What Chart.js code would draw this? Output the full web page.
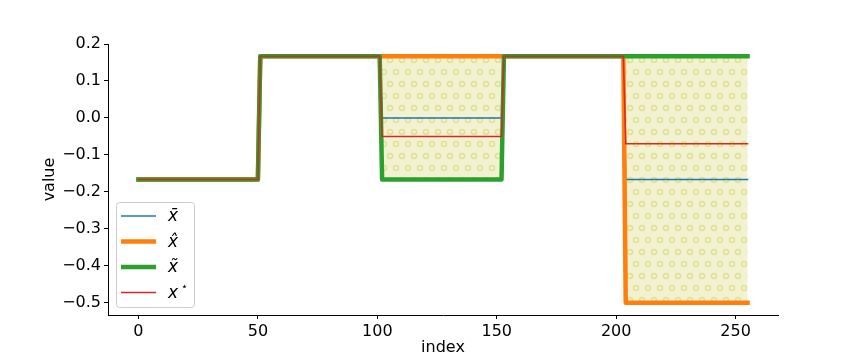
<!DOCTYPE html>
<html lang="en">
  <head>
    <meta charset="UTF-8" />
    <title>Step signals</title>
    <style>
      body {
        margin: 0;
        padding: 0;
        background: #fff;
      }
      #wrap {
        width: 864px;
        height: 360px;
      }
    </style>
    <script src="https://cdn.jsdelivr.net/npm/chart.js"></script>
  </head>
  <body>
    <div id="wrap"><canvas id="myChart" width="864" height="360"></canvas></div>

    <script>
      // breakpoints of the step signals (index values where a level starts / ends)
      const idx = [0, 50, 51, 101, 102, 152, 153, 203, 204, 255];

      // series values at those breakpoints
      const xBar = [-0.1667, -0.1667, 0.1667, 0.1667, 0, 0, 0.1667, 0.1667, -0.1667, -0.1667];
      const xHat = [-0.1667, -0.1667, 0.1667, 0.1667, 0.1667, 0.1667, 0.1667, 0.1667, -0.5, -0.5];
      const xTilde = [-0.1667, -0.1667, 0.1667, 0.1667, -0.1667, -0.1667, 0.1667, 0.1667, 0.1667, 0.1667];
      const xStar = [-0.1667, -0.1667, 0.1667, 0.1667, -0.05, -0.05, 0.1667, 0.1667, -0.07, -0.07];

      const legendLabels = ['x\u0304', 'x\u0302', 'x\u0303', 'x'];

      const xTicks = [0, 50, 100, 150, 200, 250];
      const yTicks = [-0.5, -0.4, -0.3, -0.2, -0.1, 0.0, 0.1, 0.2];

      const FONT = 'DejaVu Sans';

      function pts(values) {
        return idx.map((x, i) => ({ x: x, y: values[i] }));
      }

      // region where x-hat and x-tilde disagree
      const fillTop = idx.map((x, i) =>
        ({ x: x, y: xHat[i] !== xTilde[i] ? Math.max(xHat[i], xTilde[i]) : null }));
      const fillBottom = idx.map((x, i) =>
        ({ x: x, y: xHat[i] !== xTilde[i] ? Math.min(xHat[i], xTilde[i]) : null }));

      // hatch pattern with small circles
      function makeHatch() {
        const c = document.createElement('canvas');
        c.width = 12;
        c.height = 24;
        const g = c.getContext('2d');
        g.fillStyle = '#f2f2d1';
        g.fillRect(0, 0, 12, 24);
        g.strokeStyle = '#e0e096';
        g.lineWidth = 1.6;
        const centres = [[0, 0], [12, 0], [0, 24], [12, 24], [6, 12]];
        centres.forEach(([cx, cy]) => {
          g.beginPath();
          g.arc(cx, cy, 2.5, 0, Math.PI * 2);
          g.stroke();
        });
        return g.createPattern(c, 'repeat');
      }

      const colors = {
        blue: '#1f77b4',
        orange: '#ff7f0e',
        green: '#2ca02c',
        red: '#d62728',
      };

      const series = [
        { data: xBar, color: colors.blue, width: 1.5, order: 3 },
        { data: xHat, color: colors.orange, width: 4.5, order: 2 },
        { data: xTilde, color: colors.green, width: 4.5, order: 1 },
        { data: xStar, color: colors.red, width: 1.5, order: 0 },
      ];

      // legend drawn inside the axes, lower left
      const boxLegend = {
        id: 'boxLegend',
        afterDraw(chart) {
          const ctx = chart.ctx;
          const area = chart.chartArea;
          const w = 78;
          const h = 105;
          const x0 = area.left + 8;
          const y0 = area.bottom - 8 - h;
          ctx.save();
          ctx.beginPath();
          ctx.roundRect(x0 + 0.5, y0 + 0.5, w, h, 3);
          ctx.fillStyle = 'rgba(255,255,255,0.8)';
          ctx.fill();
          ctx.strokeStyle = '#cccccc';
          ctx.lineWidth = 1;
          ctx.stroke();

          series.forEach((s, i) => {
            const yy = y0 + 14 + i * 25.5;
            ctx.beginPath();
            ctx.moveTo(x0 + 5, yy);
            ctx.lineTo(x0 + 40, yy);
            ctx.strokeStyle = s.color;
            ctx.lineWidth = s.width;
            ctx.stroke();

            ctx.fillStyle = '#000';
            ctx.font = 'italic 17px ' + FONT;
            ctx.textBaseline = 'middle';
            ctx.textAlign = 'left';
            ctx.fillText(legendLabels[i], x0 + 52, yy + 1);
            if (i === 3) {
              ctx.font = '11px ' + FONT;
              ctx.fillText('\u22c6', x0 + 65, yy - 5);
            }
          });
          ctx.restore();
        },
      };

      const datasets = series.map((s, i) => ({
        label: legendLabels[i],
        data: pts(s.data),
        borderColor: s.color,
        borderWidth: s.width,
        pointRadius: 0,
        fill: false,
        tension: 0,
        borderCapStyle: 'square',
        borderJoinStyle: 'round',
        order: s.order,
      }));

      const hatch = makeHatch();
      datasets.push({
        label: 'fillTop',
        data: fillTop,
        borderWidth: 0,
        borderColor: 'rgba(0,0,0,0)',
        pointRadius: 0,
        fill: false,
        spanGaps: false,
        order: 5,
      });
      datasets.push({
        label: 'fillBottom',
        data: fillBottom,
        borderWidth: 0,
        borderColor: 'rgba(0,0,0,0)',
        backgroundColor: hatch,
        pointRadius: 0,
        fill: '-1',
        spanGaps: false,
        order: 4,
      });

      function fmt(v) {
        if (Math.abs(v) < 1e-9) return '0.0';
        return v.toFixed(1).replace('-', '\u2212');
      }

      const ctx = document.getElementById('myChart');
      new Chart(ctx, {
        type: 'line',
        data: { datasets: datasets },
        plugins: [boxLegend],
        options: {
          responsive: false,
          animation: false,
          devicePixelRatio: 1,
          layout: { padding: { left: 0, top: 44, right: 86, bottom: 0 } },
          plugins: {
            legend: { display: false },
            tooltip: { enabled: false },
            filler: { drawTime: 'beforeDatasetsDraw' },
          },
          scales: {
            x: {
              type: 'linear',
              min: -12.75,
              max: 267.75,
              afterFit: (s) => { s.height = 45; },
              afterBuildTicks: (s) => { s.ticks = xTicks.map((v) => ({ value: v })); },
              grid: { drawOnChartArea: false, drawTicks: true, tickLength: 4, tickWidth: 1, tickColor: '#000' },
              border: { display: true, color: '#000', width: 1 },
              ticks: {
                color: '#000',
                padding: 3,
                maxRotation: 0,
                autoSkip: false,
                font: { family: FONT, size: 16 },
                callback: (v) => String(v),
              },
              title: {
                display: true,
                text: 'index',
                color: '#000',
                font: { family: FONT, size: 16 },
                padding: { top: 0, bottom: 3 },
              },
            },
            y: {
              type: 'linear',
              min: -0.5333,
              max: 0.2,
              afterFit: (s) => { s.width = 108; },
              afterBuildTicks: (s) => { s.ticks = yTicks.map((v) => ({ value: v })); },
              grid: { drawOnChartArea: false, drawTicks: true, tickLength: 4, tickWidth: 1, tickColor: '#000' },
              border: { display: true, color: '#000', width: 1 },
              ticks: {
                color: '#000',
                padding: 3,
                autoSkip: false,
                font: { family: FONT, size: 16 },
                callback: (v) => fmt(v),
              },
              title: {
                display: true,
                text: 'value',
                color: '#000',
                font: { family: FONT, size: 16 },
                padding: { top: 40, bottom: 0 },
              },
            },
          },
        },
      });
    </script>
  </body>
</html>
